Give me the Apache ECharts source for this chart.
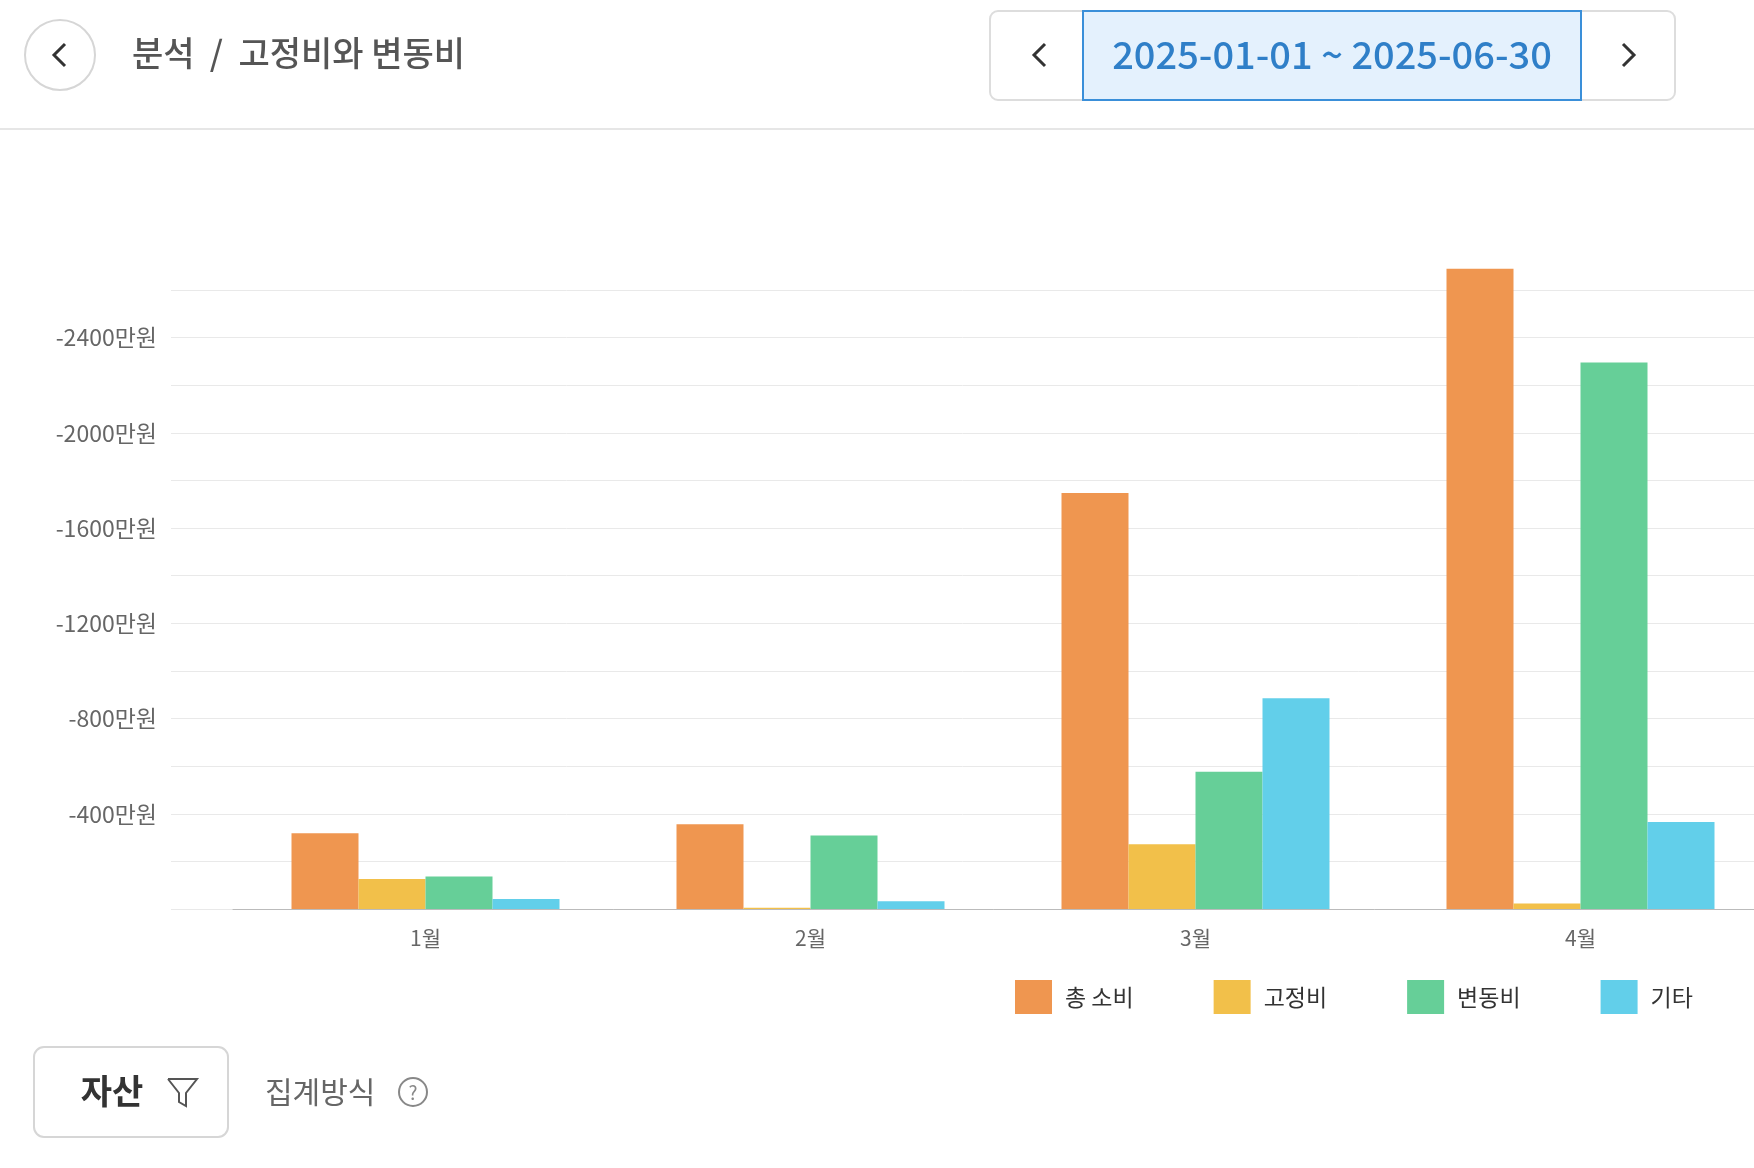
<!DOCTYPE html>
<html><head><meta charset="utf-8">
<script src="https://cdn.jsdelivr.net/npm/echarts@6/dist/echarts.min.js"></script>
<style>html,body{margin:0;padding:0;background:#fff}#c{width:1754px;height:1168px}</style>
</head><body><div id="c"></div>
<script>
const categories = ['1월','2월','3월','4월'];
const seriesNames = ['총 소비','고정비','변동비','기타'];
const totalSpend = [-318,-356,-1747,-2689];
const fixedCost = [-126,-5,-272,-23];
const variableCost = [-136,-309,-576,-2295];
const otherCost = [-42,-33,-885,-365];
const colors = ['#ef9650','#f2c04a','#66cf98','#62cfea'];
const F = '"Noto Sans CJK KR","Noto Sans",sans-serif';
const chart = echarts.init(document.getElementById('c'));
const yBase = {type:'value',inverse:true,min:-2600,max:0,interval:200};
chart.setOption({
  textStyle:{fontFamily:F},
  grid:[{left:171,right:0,top:290,bottom:259,outerBoundsMode:'none'},
        {left:233,width:1540,top:290,bottom:259,outerBoundsMode:'none'}],
  xAxis:[
    {gridIndex:0,type:'value',show:false,min:0,max:1},
    {gridIndex:1,type:'category',data:categories,axisLine:{lineStyle:{color:'#bbb'}},
     axisTick:{alignWithLabel:true,length:6,lineStyle:{color:'#999'}},
     axisLabel:{color:'#666',fontSize:21,margin:19,fontFamily:F}}
  ],
  yAxis:[
    Object.assign({gridIndex:0,axisLine:{show:false},axisTick:{show:false},
      splitLine:{lineStyle:{color:'#e9e9e9'}},
      axisLabel:{color:'#666',fontSize:23,margin:14,fontFamily:F,
        formatter:v=>(v!==0&&v%400===0)?v+'만원':''}},yBase),
    Object.assign({gridIndex:1,show:false,splitLine:{show:false}},yBase)
  ],
  legend:{bottom:149,left:1010,itemWidth:37,itemHeight:34,itemGap:80,
    icon:'rect',textStyle:{fontSize:23,color:'#333',fontFamily:F,padding:[0,0,0,8]},data:seriesNames},
  series:[totalSpend,fixedCost,variableCost,otherCost].map((d,i)=>({
    name:seriesNames[i],type:'bar',xAxisIndex:1,yAxisIndex:1,data:d,clip:false,
    barWidth:67,barGap:'0%',itemStyle:{color:colors[i]}
  })),
  graphic:[
    {type:'circle',shape:{cx:60,cy:55,r:35},style:{fill:'#fff',stroke:'#d6d6d6',lineWidth:2}},
    {type:'polyline',shape:{points:[[65,44],[54,55],[65,66]]},style:{stroke:'#333',lineWidth:3,fill:null}},
    {type:'text',left:132,top:36,style:{text:'분석  /  고정비와 변동비',fontSize:34,fill:'#555',fontFamily:F,fontWeight:500}},
    {type:'rect',shape:{x:990,y:11,width:685,height:89,r:8},style:{fill:'#fff',stroke:'#ddd',lineWidth:2}},
    {type:'polyline',shape:{points:[[1045,44],[1034,55],[1045,66]]},style:{stroke:'#333',lineWidth:3,fill:null}},
    {type:'polyline',shape:{points:[[1623,44],[1634,55],[1623,66]]},style:{stroke:'#333',lineWidth:3,fill:null}},
    {type:'rect',shape:{x:1083,y:11,width:498,height:89},style:{fill:'#e4f1fd',stroke:'#3a8fd9',lineWidth:2}},
    {type:'text',x:1332,y:55,style:{text:'2025-01-01 ~ 2025-06-30',fontSize:38,fill:'#2f7fc8',fontFamily:F,align:'center',verticalAlign:'middle',fontWeight:500}},
    {type:'rect',shape:{x:0,y:128,width:1754,height:2},style:{fill:'#e6e6e6'}},
    {type:'rect',shape:{x:34,y:1047,width:194,height:90,r:10},style:{fill:'#fff',stroke:'#d6d6d6',lineWidth:2}},
    {type:'text',x:112,y:1091,style:{text:'자산',fontSize:34,fill:'#333',fontFamily:F,align:'center',verticalAlign:'middle',fontWeight:'bold'}},
    {type:'polyline',shape:{points:[[168,1079],[197,1079],[186,1093],[186,1106],[179,1102],[179,1093],[168,1079]]},style:{stroke:'#555',lineWidth:2,fill:null}},
    {type:'text',x:265,y:1092,style:{text:'집계방식',fontSize:30,fill:'#666',fontFamily:F,verticalAlign:'middle'}},
    {type:'circle',shape:{cx:413,cy:1092,r:14},style:{fill:'#fff',stroke:'#888',lineWidth:2}},
    {type:'text',x:413,y:1093,style:{text:'?',fontSize:19,fill:'#888',fontFamily:F,align:'center',verticalAlign:'middle'}}
  ]
});
</script></body></html>
